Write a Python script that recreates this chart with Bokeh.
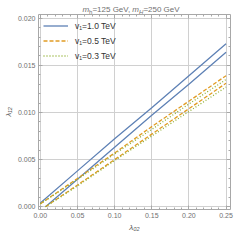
from bokeh.plotting import figure
from bokeh.layouts import column
from bokeh.models import Range1d, LinearAxis, NumeralTickFormatter, Legend, LegendItem, Div, FixedTicker
from bokeh.embed import file_html
from bokeh.resources import INLINE

# ---- data ----
lam02_upper = [0.0, 0.05, 0.10, 0.15, 0.20, 0.25]
lam02_lower = [0.007, 0.05, 0.10, 0.15, 0.20, 0.25]

v1_10_upper = [0.0004, 0.0038, 0.0072, 0.0105, 0.0139, 0.0173]
v1_10_lower = [0.0000, 0.0029, 0.0063, 0.0097, 0.0130, 0.0164]
v1_05_upper = [0.0003, 0.0030, 0.0057, 0.0085, 0.0112, 0.0139]
v1_05_lower = [0.0000, 0.0023, 0.0050, 0.0077, 0.0104, 0.0131]
v1_03_upper = [0.0003, 0.0029, 0.0056, 0.0082, 0.0109, 0.0135]
v1_03_lower = [0.0000, 0.0022, 0.0049, 0.0075, 0.0101, 0.0127]

legend_labels = ["v₁=1.0 TeV", "v₁=0.5 TeV", "v₁=0.3 TeV"]
colors = ["#5E81B5", "#E19C24", "#8FB032"]

x_major = [0.0, 0.05, 0.10, 0.15, 0.20, 0.25]
x_minor = [i / 100 for i in range(0, 26) if i % 5 != 0]
y_major = [0.0, 0.005, 0.010, 0.015, 0.020]
y_minor = [i / 1000 for i in range(0, 21) if i % 5 != 0]

X0, X1 = -0.0025, 0.256
Y0, Y1 = -0.0003, 0.0204

W = 234
TH = 12           # title strip height
H = 234 - TH
BL, BR, BT, BB = 32, 4, 2, 24

p = figure(width=W, height=H, output_backend="svg", toolbar_location=None,
           x_range=Range1d(X0, X1), y_range=Range1d(Y0, Y1),
           min_border_left=BL, min_border_right=BR, min_border_top=BT, min_border_bottom=BB,
           x_axis_label="λ₀₂", y_axis_label="λ₁₂")
p.outline_line_color = None
p.background_fill_color = "white"
p.border_fill_alpha = 0

frame_col = "#a8a8a8"
lab_col = "#707070"

p.xaxis.ticker = FixedTicker(ticks=x_major, minor_ticks=x_minor)
p.xaxis.formatter = NumeralTickFormatter(format="0.00")
p.yaxis.ticker = FixedTicker(ticks=y_major, minor_ticks=y_minor)
p.yaxis.formatter = NumeralTickFormatter(format="0.000")

# frame ticks on top and right, with no labels: ticks are drawn as "minor" ticks
for side, majors, minors in (("above", x_major, x_minor), ("right", y_major, y_minor)):
    a1 = LinearAxis(ticker=FixedTicker(ticks=[], minor_ticks=majors))
    a1.minor_tick_in = 4
    a2 = LinearAxis(ticker=FixedTicker(ticks=[], minor_ticks=minors))
    a2.minor_tick_in = 2
    a2.axis_line_color = None
    for a in (a1, a2):
        a.minor_tick_out = 0
        a.major_tick_in = 0
        a.major_tick_out = 0
        a.major_label_standoff = 0
        a.minor_tick_line_color = frame_col
        if a is a1:
            a.axis_line_color = frame_col
        p.add_layout(a, side)

for ax in list(p.below) + list(p.left):
    ax.axis_line_color = frame_col
    ax.major_tick_line_color = frame_col
    ax.minor_tick_line_color = frame_col
    ax.major_tick_in = 4
    ax.major_tick_out = 0
    ax.minor_tick_in = 2
    ax.minor_tick_out = 0
    ax.major_label_text_font = "Liberation Sans"
    ax.major_label_text_font_size = "7px"
    ax.major_label_text_color = lab_col
    ax.major_label_standoff = 3
    ax.axis_label_text_font = "Liberation Sans"
    ax.axis_label_text_font_size = "8px"
    ax.axis_label_text_color = "#555555"
    ax.axis_label_standoff = 2

p.xgrid.grid_line_color = "#d0d0d0"
p.ygrid.grid_line_color = "#d0d0d0"

lw = 1.3
r1 = p.line(lam02_upper, v1_10_upper, line_color=colors[0], line_width=lw)
p.line(lam02_lower, v1_10_lower, line_color=colors[0], line_width=lw)
r2 = p.line(lam02_upper, v1_05_upper, line_color=colors[1], line_width=lw, line_dash="4 2")
p.line(lam02_lower, v1_05_lower, line_color=colors[1], line_width=lw, line_dash="4 2")
r3 = p.line(lam02_upper, v1_03_upper, line_color=colors[2], line_width=lw, line_dash="1 2")
p.line(lam02_lower, v1_03_lower, line_color=colors[2], line_width=lw, line_dash="1 2")

legend = Legend(items=[LegendItem(label=legend_labels[0], renderers=[r1]),
                       LegendItem(label=legend_labels[1], renderers=[r2]),
                       LegendItem(label=legend_labels[2], renderers=[r3])],
                location="top_left")
legend.label_text_font = "Liberation Sans"
legend.label_text_font_size = "8.5px"
legend.label_text_color = "#333333"
legend.background_fill_alpha = 0
legend.border_line_color = None
legend.glyph_width = 25
legend.glyph_height = 13
legend.label_height = 13
legend.label_standoff = 7
legend.spacing = 2
legend.padding = 2
legend.margin = 5
p.add_layout(legend, "center")

# ---- title (m_h=125 GeV, m_H=250 GeV) as an HTML strip centred over the frame ----
shift = BL - BR
title_html = (
    f'<div style="width:{W - shift}px;margin-left:{shift}px;text-align:center;'
    'font-family:\'Liberation Sans\';font-size:8px;line-height:10px;color:#707070;white-space:nowrap">'
    '<i>m</i><sub style="font-size:6px;line-height:0;vertical-align:-2px">h</sub>=125 GeV, '
    '<i>m</i><sub style="font-size:6px;line-height:0;vertical-align:-2px"><i>H</i></sub>=250 GeV</div>'
)
title = Div(text=title_html, width=W, height=TH, margin=0)

layout = column(title, p, spacing=0)
open("out.html", "w").write(file_html(layout, INLINE))
